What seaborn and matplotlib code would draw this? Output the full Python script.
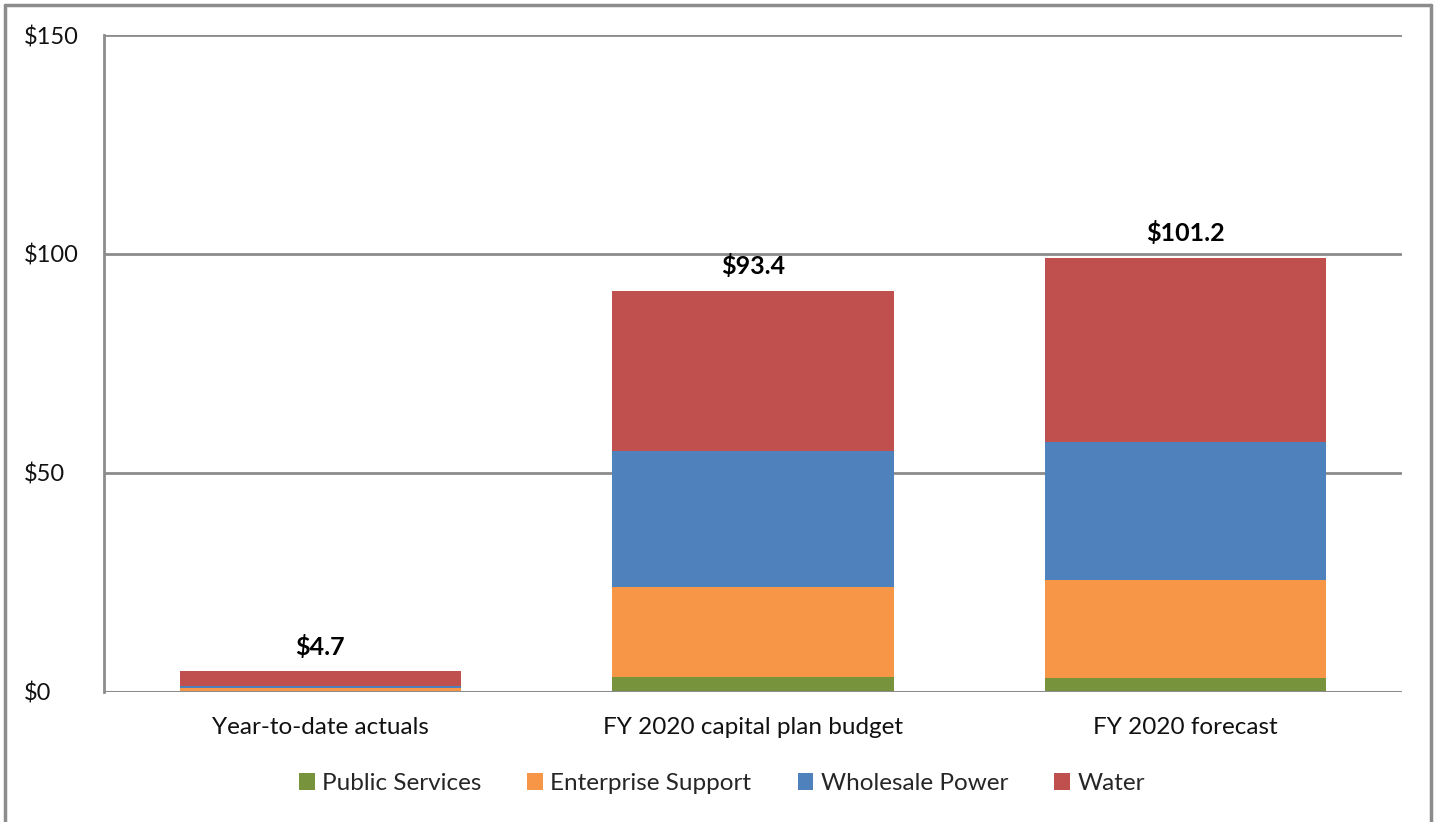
import matplotlib
matplotlib.use("Agg")
import matplotlib.pyplot as plt
from matplotlib.patches import Patch
from matplotlib.lines import Line2D
import numpy as np
import seaborn as sns

categories = ["Year-to-date actuals", "FY 2020 capital plan budget", "FY 2020 forecast"]
series_names = ["Public Services", "Enterprise Support", "Wholesale Power", "Water"]
public_services = [0.1, 3.4, 3.1]
enterprise_support = [0.7, 20.5, 22.5]
wholesale_power = [0.6, 31.2, 31.4]
water = [3.3, 36.5, 42.2]
total_labels = ["$4.7", "$93.4", "$101.2"]
y_ticks = [0, 50, 100, 150]
y_tick_labels = ["$0", "$50", "$100", "$150"]
colors = ["#77933C", "#F79646", "#4F81BD", "#C0504D"]

sns.set_theme(style="white")
plt.rcParams["font.family"] = ["Lato", "DejaVu Sans"]

fig = plt.figure(figsize=(14.35, 8.22), dpi=100)
ax = fig.add_axes([0.0725, 0.1582, 0.9045, 0.7992])

series = [public_services, enterprise_support, wholesale_power, water]
cum = np.cumsum(np.array(series), axis=0)

# draw from top layer down so stacked segments are visible
for i in range(len(series) - 1, -1, -1):
    sns.barplot(x=categories, y=cum[i], color=colors[i], width=0.65,
                saturation=1, ax=ax, linewidth=0, order=categories)

ax.set_ylim(0, 150)
ax.set_xlim(-0.5, 2.5)
ax.set_yticks(y_ticks)
ax.set_yticklabels(y_tick_labels)
grid_color = "#8C8C8C"
for t in y_ticks[1:]:
    ax.axhline(t, color=grid_color, lw=2, zorder=0.5)
for s in ["top", "right", "bottom"]:
    ax.spines[s].set_visible(False)
ax.spines["left"].set_color(grid_color)
ax.spines["left"].set_linewidth(2)
ax.axhline(0, color=grid_color, lw=2.2, zorder=5)

ax.tick_params(axis="y", length=0, pad=58, labelsize=17, labelcolor="#111111")
for lab in ax.get_yticklabels():
    lab.set_horizontalalignment("left")
ax.tick_params(axis="x", length=0, pad=18, labelsize=17.5, labelcolor="#111111")
ax.set_xlabel("")
ax.set_ylabel("")

tops = cum[-1]
for xi, (top, lab) in enumerate(zip(tops, total_labels)):
    ax.annotate(lab, (xi, top), xytext=(0, 9), textcoords="offset points",
                ha="center", va="bottom", fontsize=18, fontweight="bold",
                color="#000000")

handles = [Patch(facecolor=c, edgecolor="none") for c in colors]
fig.legend(handles, series_names, loc="center", bbox_to_anchor=(0.503, 0.047),
           ncol=4, frameon=False, fontsize=17.5, handlelength=0.65,
           handleheight=0.75, handletextpad=0.3, columnspacing=1.9)

# outer chart border
bc = "#8C8C8C"
x0, x1, y1 = 5 / 1435, 1431 / 1435, 1 - 5 / 822
fig.add_artist(Line2D([x0, x0], [0, y1], transform=fig.transFigure, color=bc, lw=2.5))
fig.add_artist(Line2D([x0, x1], [y1, y1], transform=fig.transFigure, color=bc, lw=2.5))
fig.add_artist(Line2D([x1, x1], [0, y1], transform=fig.transFigure, color=bc, lw=2.5))

fig.savefig("out.png", dpi=100)
